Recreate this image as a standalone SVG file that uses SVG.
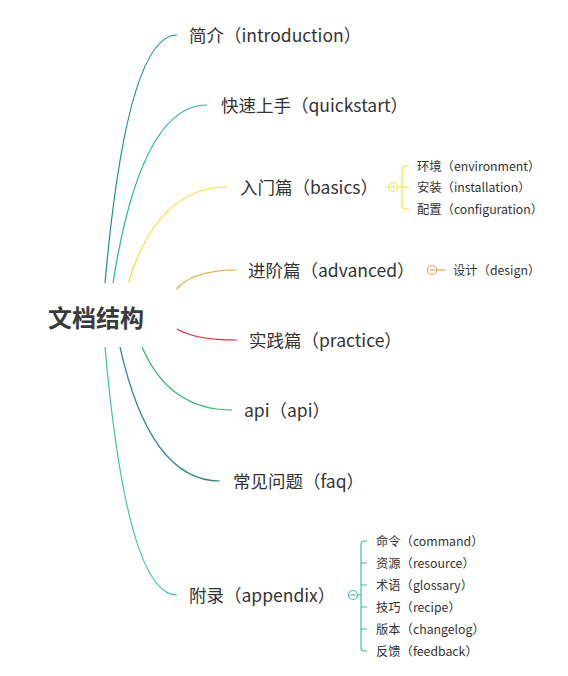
<svg xmlns="http://www.w3.org/2000/svg" width="568" height="676" viewBox="0 0 568 676">
<style>
text{font-family:"Noto Sans CJK SC","Noto Sans",sans-serif;fill:#333;dominant-baseline:central}
.root{font-size:24px;font-weight:bold;fill:#3a3a3a}
.main{font-size:17.5px}
.sub{font-size:12.3px}
.c{fill:none;stroke-width:1.2}
.k{fill:#fff;stroke-width:1.2}
</style>
<rect width="568" height="676" fill="#fff"/>
<g id="connectors">
<path class="c" stroke="#1a8f86" d="M105,283 Q127,35 177,35"/>
<path class="c" stroke="#26b39e" d="M113,283 Q141,105 207,105"/>
<path class="c" stroke="#f3e23a" d="M128,283 Q158,187 227,187"/>
<path class="c" stroke="#f0a030" d="M176,289 Q194,270 236,270"/>
<path class="c" stroke="#e0302e" d="M177,329 Q195,340 237,340"/>
<path class="c" stroke="#2eb86a" d="M142,347 Q169,410 232,410"/>
<path class="c" stroke="#2a8a8a" d="M120,347 Q150,481 220,481"/>
<path class="c" stroke="#3cc0a8" d="M105,347 Q127,595 177,595"/>
<path class="c" stroke="#f3e23a" d="M397,187 L409,187 M409,166 L406,166 Q402,166 402,170 L402,205 Q402,209 406,209 L409,209"/>
<path class="c" stroke="#e8a050" d="M436.5,270 L445,270"/>
<path class="c" stroke="#3cc0a8" d="M357.5,595 L361,595 M367,541 L365,541 Q361,541 361,545 L361,647 Q361,651 365,651 L367,651 M361,563 L367,563 M361,585 L367,585 M361,607 L367,607 M361,629 L367,629"/>
</g>
<g id="root"><text class="root" x="48" y="316">文档结构</text></g>
<g id="n-introduction"><text class="main" x="189" y="34.5">简介（introduction）</text></g>
<g id="n-quickstart"><text class="main" x="221" y="104.5">快速上手（quickstart）</text></g>
<g id="n-basics"><text class="main" x="240" y="186.5">入门篇（basics）</text>
<circle class="k" stroke="#f3e23a" cx="393" cy="187" r="4.5"/><path stroke="#f3e23a" stroke-width="1.2" d="M390.5,187 L395.5,187"/></g>
<g id="n-environment"><text class="sub" x="417" y="165.5">环境（environment）</text></g>
<g id="n-installation"><text class="sub" x="417" y="186.5">安装（installation）</text></g>
<g id="n-configuration"><text class="sub" x="417" y="208.5">配置（configuration）</text></g>
<g id="n-advanced"><text class="main" x="248" y="269.5">进阶篇（advanced）</text>
<circle class="k" stroke="#e8a050" cx="432" cy="270" r="4.5"/><path stroke="#e8a050" stroke-width="1.2" d="M429.5,270 L434.5,270"/></g>
<g id="n-design"><text class="sub" x="453" y="269.5">设计（design）</text></g>
<g id="n-practice"><text class="main" x="249" y="339.5">实践篇（practice）</text></g>
<g id="n-api"><text class="main" x="244" y="409.5">api（api）</text></g>
<g id="n-faq"><text class="main" x="233" y="480.5">常见问题（faq）</text></g>
<g id="n-appendix"><text class="main" x="189" y="594.5">附录（appendix）</text>
<circle class="k" stroke="#3cc0a8" cx="353" cy="595" r="4.5"/><path stroke="#3cc0a8" stroke-width="1.2" d="M350.5,595 L355.5,595"/></g>
<g id="n-command"><text class="sub" x="376" y="540.5">命令（command）</text></g>
<g id="n-resource"><text class="sub" x="376" y="562.5">资源（resource）</text></g>
<g id="n-glossary"><text class="sub" x="376" y="584.5">术语（glossary）</text></g>
<g id="n-recipe"><text class="sub" x="376" y="606.5">技巧（recipe）</text></g>
<g id="n-changelog"><text class="sub" x="376" y="628.5">版本（changelog）</text></g>
<g id="n-feedback"><text class="sub" x="376" y="650.5">反馈（feedback）</text></g>
</svg>
